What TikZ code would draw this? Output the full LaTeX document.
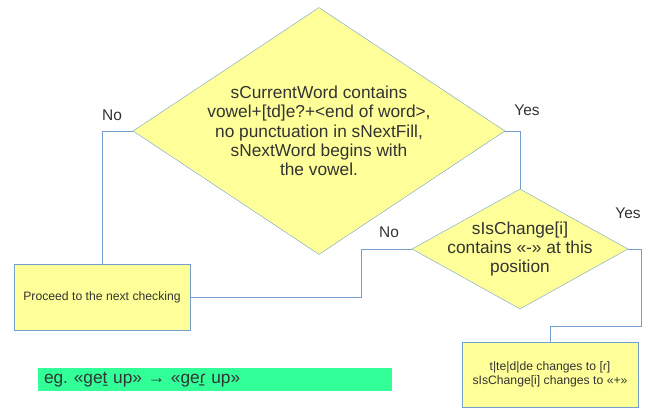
\documentclass[tikz,border=0pt]{standalone}
\usepackage{fontspec}
\setmainfont{Liberation Sans}
\usetikzlibrary{shapes.geometric}
\definecolor{boxfill}{HTML}{FFFF99}
\definecolor{boxline}{HTML}{729FCF}
\definecolor{notefill}{HTML}{33FF99}
\definecolor{ink}{HTML}{333333}
\frenchspacing
\tikzstyle{decision} = [diamond, draw=boxline, fill=boxfill, inner sep=0pt]
\tikzstyle{block} = [rectangle, draw=boxline, fill=boxfill, inner sep=0pt, text=ink, align=center, font=\fontsize{12.2}{14}\selectfont]
\tikzstyle{line} = [draw=boxline, line width=0.8pt]
\tikzstyle{bigtext} = [font=\fontsize{17.3}{19.4}\selectfont, text=ink, align=center]
\tikzstyle{answer} = [font=\fontsize{15.5}{18}\selectfont, text=ink]

\begin{document}
\begin{tikzpicture}
  \useasboundingbox (0pt,0pt) rectangle (651pt,-409pt);
  \draw (319.0pt, -131.0pt)node[decision, minimum width=372pt, minimum height=247pt](cond){};
  \draw (520.0pt, -249.0pt)node[decision, minimum width=216pt, minimum height=120pt](chk){};
  \draw (102.0pt, -297.0pt)node[block, minimum width=176pt, minimum height=66pt](next){Proceed to the next checking};
  \draw (550.0pt, -374.5pt)node[block, minimum width=176pt, minimum height=65pt](change){t|te|d|de changes to [ɾ]\\sIsChange[i] changes to «+»};
  \draw (215.0pt, -379.5pt)node[rectangle, fill=notefill, minimum height=23pt, text width=342pt, inner xsep=6pt, inner ysep=0pt, align=left, text=ink, font=\fontsize{17.3}{19}\selectfont](note){eg.\ «geṯ up» → «geɾ̠ up»};
  \node[bigtext] (condtext) at (cond) {sCurrentWord contains\\vowel+[td]e?+<end of word>,\\no punctuation in sNextFill,\\sNextWord begins with\\the vowel.};
  \node[bigtext] (chktext) at (chk) {sIsChange[i]\\contains «-» at this\\position};
  \coordinate (bend) at (641.0pt, -326.0pt);
  \path[line] (cond.west) -| (next.north);
  \path[line] (cond.east) -| (chk.north);
  \path[line] (chk.west) -- ++(-50pt,0) |- (next.east);
  \path[line] (chk.east) -| (bend) -| (change.north);
  \node[answer] (no1) at (112.0pt, -115.0pt) {No};
  \node[answer] (yes1) at (527.0pt, -110.0pt) {Yes};
  \node[answer] (no2) at (389.0pt, -232.0pt) {No};
  \node[answer] (yes2) at (628.0pt, -213.0pt) {Yes};
\end{tikzpicture}
\end{document}
